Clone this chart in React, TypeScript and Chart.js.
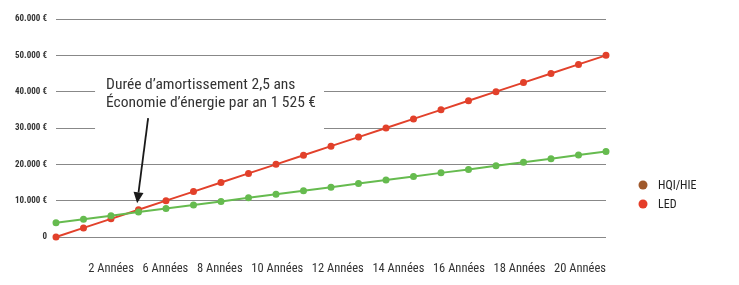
import React, { useEffect, useRef } from 'react';
import { Chart, registerables } from 'chart.js';

Chart.register(...registerables);

const YEARS = [0, 1, 2, 3, 4, 5, 6, 7, 8, 9, 10, 11, 12, 13, 14, 15, 16, 17, 18, 19, 20];
const LED = [0, 2500, 5000, 7500, 10000, 12500, 15000, 17500, 20000, 22500, 25000, 27500, 30000, 32500, 35000, 37500, 40000, 42500, 45000, 47500, 50000];
const HQI = [3900, 4900, 5850, 6850, 7850, 8800, 9800, 10800, 11750, 12750, 13700, 14700, 15700, 16650, 17650, 18600, 19600, 20600, 21550, 22550, 23500];
const X_LABELS = ['2 Années', '6 Années', '8 Années', '10 Années', '12 Années', '14 Années', '16 Années', '18 Années', '20 Années'];
const Y_TICK_LABELS = ['0', '10.000 €', '20.000 €', '30.000 €', '40.000 €', '50.000 €', '60.000 €'];
const SERIES_NAMES = ['HQI/HIE', 'LED'];
const LEGEND_COLORS = ['#a0592c', '#e53d29'];
const LINE_COLORS = ['#66bb4f', '#e2412b'];
const NOTE_LINES = ['Durée d\u2019amortissement 2,5 ans', 'Économie d\u2019énergie par an 1 525 €'];

const FONT = '"Roboto Condensed", Roboto, "DejaVu Sans Condensed", sans-serif';

const legendPlugin = {
  id: 'sideLegend',
  afterDraw(chart: any) {
    const { ctx, chartArea } = chart;
    ctx.save();
    ctx.font = `condensed 12px ${FONT}`;
    ctx.textBaseline = 'middle';
    SERIES_NAMES.forEach((name, i) => {
      const cx = chartArea.right + 37;
      const cy = chartArea.bottom - 52 + i * 19;
      ctx.beginPath();
      ctx.fillStyle = LEGEND_COLORS[i];
      ctx.arc(cx, cy, 4.5, 0, Math.PI * 2);
      ctx.fill();
      ctx.fillStyle = '#222';
      ctx.fillText(name, cx + 15, cy + 0.5);
    });
    ctx.restore();
  },
};

const notePlugin = {
  id: 'note',
  beforeDatasetsDraw(chart: any) {
    const { ctx, scales } = chart;
    const x = scales.x;
    const y = scales.y;
    ctx.save();
    const tx = x.getPixelForValue(1.82);
    const ty = y.getPixelForValue(40800);
    ctx.font = `condensed 15.5px ${FONT}`;
    const w = Math.max(...NOTE_LINES.map((l) => ctx.measureText(l).width));
    ctx.fillStyle = '#ffffff';
    ctx.fillRect(tx - 11, ty - 18, w + 19, 64);
    ctx.fillStyle = '#333';
    ctx.textBaseline = 'alphabetic';
    NOTE_LINES.forEach((l, i) => ctx.fillText(l, tx, ty + i * 18));
    // arrow
    const x0 = x.getPixelForValue(3.35);
    const y0 = y.getPixelForValue(32700);
    const x1 = x.getPixelForValue(2.95);
    const y1 = y.getPixelForValue(9300);
    const ang = Math.atan2(y1 - y0, x1 - x0);
    const headLen = 11;
    const headW = 5;
    const bx = x1 - headLen * Math.cos(ang);
    const by = y1 - headLen * Math.sin(ang);
    ctx.strokeStyle = '#1a1a1a';
    ctx.lineWidth = 1.8;
    ctx.beginPath();
    ctx.moveTo(x0, y0);
    ctx.lineTo(bx, by);
    ctx.stroke();
    ctx.fillStyle = '#1a1a1a';
    ctx.beginPath();
    ctx.moveTo(x1, y1);
    ctx.lineTo(bx + headW * Math.sin(ang), by - headW * Math.cos(ang));
    ctx.lineTo(bx - headW * Math.sin(ang), by + headW * Math.cos(ang));
    ctx.closePath();
    ctx.fill();
    ctx.restore();
  },
};

export default function App() {
  const ref = useRef<HTMLCanvasElement>(null);
  useEffect(() => {
    document.body.style.margin = '0';
    const chart = new Chart(ref.current as HTMLCanvasElement, {
      type: 'line',
      data: {
        datasets: [
          {
            label: SERIES_NAMES[0],
            data: YEARS.map((t, i) => ({ x: t, y: HQI[i] })),
            borderColor: LINE_COLORS[0],
            backgroundColor: LINE_COLORS[0],
            borderWidth: 2,
            pointRadius: 2.5,
            pointHoverRadius: 2.5,
            clip: false as any,
          },
          {
            label: SERIES_NAMES[1],
            data: YEARS.map((t, i) => ({ x: t, y: LED[i] })),
            borderColor: LINE_COLORS[1],
            backgroundColor: LINE_COLORS[1],
            borderWidth: 2,
            pointRadius: 2.5,
            pointHoverRadius: 2.5,
            clip: false as any,
          },
        ],
      },
      options: {
        animation: false,
        responsive: false,
        layout: { padding: { top: 19, right: 133, left: 0, bottom: 0 } },
        plugins: { legend: { display: false }, tooltip: { enabled: false } },
        scales: {
          x: {
            type: 'linear',
            min: 0,
            max: 20,
            grid: { display: false },
            border: { display: false },
            ticks: { display: false },
            title: {
              display: true,
              text: X_LABELS.join('   '),
              align: 'end',
              color: '#333',
              font: { family: FONT, size: 12.5, weight: 'condensed normal' },
              padding: { top: 0, bottom: 9 },
            },
            afterFit(scale: any) {
              scale.height = 48;
            },
          },
          y: {
            min: 0,
            max: 60000,
            ticks: {
              stepSize: 10000,
              padding: 9,
              color: '#333',
              font: { family: FONT, size: 9, weight: 'condensed bold' },
              callback: (v: any) => Y_TICK_LABELS[Math.round(Number(v) / 10000)],
            },
            grid: { color: '#888', lineWidth: 1, drawTicks: false },
            border: { display: false },
            afterFit(scale: any) {
              scale.width = 56;
            },
          },
        },
      } as any,
      plugins: [legendPlugin, notePlugin],
    });
    return () => chart.destroy();
  }, []);
  return (
    <div style={{ width: 739, height: 285, background: '#fff' }}>
      <canvas ref={ref} width={739} height={285} />
    </div>
  );
}
